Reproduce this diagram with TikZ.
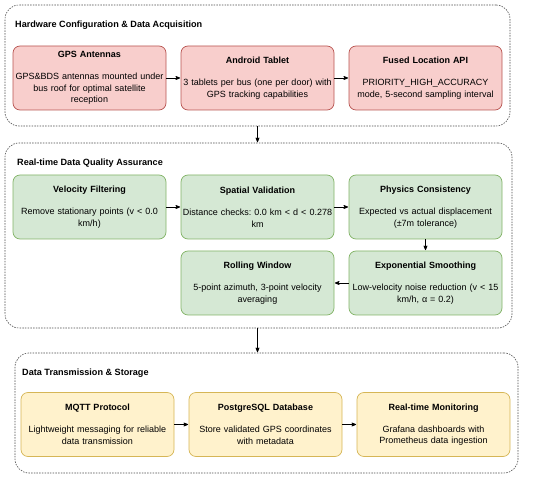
\documentclass[tikz,border=0pt]{standalone}
\usepackage{fontspec}
\setmainfont{Liberation Sans}
\frenchspacing
\usetikzlibrary{shapes,arrows}
\usetikzlibrary{positioning,fit}
\definecolor{hwfill}{HTML}{F8CECC}
\definecolor{hwline}{HTML}{B85450}
\definecolor{qafill}{HTML}{D5E8D4}
\definecolor{qaline}{HTML}{82B366}
\definecolor{txfill}{HTML}{FFF2CC}
\definecolor{txline}{HTML}{D6B656}
\tikzset{
    block/.style={
           rectangle, rounded corners=7pt,
           line width=0.7pt,
           minimum width=153pt,
           minimum height=64pt,
           text width=160pt,
           inner xsep=-3.5pt,
           align=center,
           font=\fontsize{9}{11.5}\selectfont
           },
    hwbox/.style={block, draw=hwline, fill=hwfill},
    qabox/.style={block, draw=qaline, fill=qafill},
    txbox/.style={block, draw=txline, fill=txfill},
    group/.style={
           rectangle, rounded corners=14pt,
           draw=black!70, line width=0.6pt,
           dash pattern=on 1.5pt off 1.2pt,
           inner sep=0pt
           },
    grouptitle/.style={
           anchor=west, inner sep=0pt,
           font=\fontsize{9.1}{11}\selectfont\bfseries
           }
}
\newcommand{\blocktext}[2]{\textbf{#1}\\[10.5pt]#2}

\begin{document}
\begin{tikzpicture}[shorten >=0.5pt, >=stealth', node distance=168pt, on grid]
   \useasboundingbox (0,0) rectangle (550pt,-478pt);
   % hardware
   \node[hwbox] (gps) at (89.5pt,-78pt) {\blocktext{GPS Antennas}{GPS\&BDS antennas mounted under\\bus roof for optimal satellite\\reception}};
   \node[hwbox] (tab) [right=of gps] {\blocktext{Android Tablet}{3 tablets per bus (one per door) with\\GPS tracking capabilities}};
   \node[hwbox] (api) [right=of tab] {\blocktext{Fused Location API}{PRIORITY\_HIGH\_ACCURACY\\mode, 5-second sampling interval}};
   % quality assurance
   \node[qabox] (vel) [below=129pt of gps] {\blocktext{Velocity Filtering}{Remove stationary points (v < 0.0\\km/h)}};
   \node[qabox] (spat) [right=of vel] {\blocktext{Spatial Validation}{Distance checks: 0.0 km < d < 0.278\\km}};
   \node[qabox] (phys) [right=of spat] {\blocktext{Physics Consistency}{Expected vs actual displacement\\(±7m tolerance)}};
   \node[qabox] (expo) [below=76pt of phys] {\blocktext{Exponential Smoothing}{Low-velocity noise reduction (v < 15\\km/h, α = 0.2)}};
   \node[qabox] (roll) [left=of expo] {\blocktext{Rolling Window}{5-point azimuth, 3-point velocity\\averaging}};
   % transmission
   \node[txbox] (mqtt) [below right=217.5pt and 8pt of vel] {\blocktext{MQTT Protocol}{Lightweight messaging for reliable\\data transmission}};
   \node[txbox] (pg) [right=of mqtt] {\blocktext{PostgreSQL Database}{Store validated GPS coordinates\\with metadata}};
   \node[txbox] (mon) [right=of pg] {\blocktext{Real-time Monitoring}{Grafana dashboards with\\Prometheus data ingestion}};

   % groups
   \node[group, fit={(5pt,-5pt) (510pt,-126pt)}] (hw) {};
   \node[group, fit={(5pt,-143pt) (512pt,-328pt)}] (qa) {};
   \node[group, fit={(15pt,-353pt) (518pt,-473pt)}] (tx) {};
   \node[grouptitle] (hwtitle) at (15pt,-25pt) {Hardware Configuration \& Data Acquisition};
   \node[grouptitle] (qatitle) at (17pt,-163pt) {Real-time Data Quality Assurance};
   \node[grouptitle] (txtitle) at (22pt,-373pt) {Data Transmission \& Storage};

   \path[->, line width=0.7pt]
    (gps) edge (tab)
    (tab) edge (api)
    (vel) edge (spat)
    (spat) edge (phys)
    (phys) edge (expo)
    (expo) edge (roll)
    (mqtt) edge (pg)
    (pg) edge (mon)
    (hw.south -| tab) edge (qa.north -| tab)
    (qa.south -| tab) edge (tx.north -| tab)
       ;
\end{tikzpicture}
\end{document}
